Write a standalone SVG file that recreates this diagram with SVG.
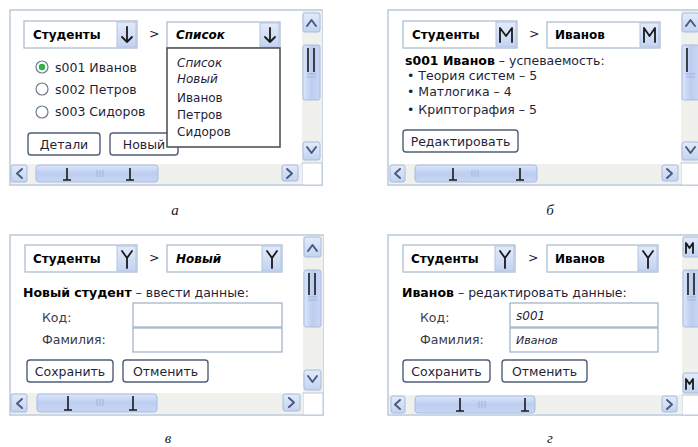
<svg xmlns="http://www.w3.org/2000/svg" width="698" height="447" viewBox="0 0 698 447">
  <defs>
    <linearGradient id="thumbH" x1="0" y1="0" x2="0" y2="1">
      <stop offset="0" stop-color="#dbe6fa"/>
      <stop offset="0.5" stop-color="#bccdf0"/>
      <stop offset="1" stop-color="#c9d7f4"/>
    </linearGradient>
    <linearGradient id="thumbV" x1="0" y1="0" x2="1" y2="0">
      <stop offset="0" stop-color="#dbe6fa"/>
      <stop offset="0.5" stop-color="#bccdf0"/>
      <stop offset="1" stop-color="#c9d7f4"/>
    </linearGradient>
    <linearGradient id="btnGrad" x1="0" y1="0" x2="0" y2="1">
      <stop offset="0" stop-color="#e3ebfa"/>
      <stop offset="1" stop-color="#c3d3f0"/>
    </linearGradient>
  </defs>
  <style>
    .frame{fill:#fff;stroke:#b9c9da;stroke-width:1.5}
    .combo{fill:#fff;stroke:#a9b9cc;stroke-width:1.2}
    .cbtn{fill:url(#btnGrad);stroke:#b3c4e2;stroke-width:1}
    .glyph{fill:none;stroke:#1a1a1a;stroke-width:1.8;stroke-linecap:round;stroke-linejoin:round}
    .chev{fill:none;stroke:#4a5a80;stroke-width:2;stroke-linecap:round;stroke-linejoin:round}
    .btn{fill:#fff;stroke:#4e5e78;stroke-width:1.4}
    .sbtn{fill:url(#btnGrad);stroke:#a9bbdc;stroke-width:1}
    .track{fill:#f0f0ec}
    .hthumb{fill:url(#thumbH);stroke:#a9bbe2;stroke-width:1}
    .vthumb{fill:url(#thumbV);stroke:#a9bbe2;stroke-width:1}
    .tick{fill:none;stroke:#1a1a1a;stroke-width:1.6}
    .grip{fill:none;stroke:#9fb3dc;stroke-width:1}
    .field{fill:#fff;stroke:#9fb0c4;stroke-width:1.2}
    .list{fill:#fff;stroke:#4a4a4a;stroke-width:1.5}
    .radio{fill:#fff;stroke:#6c7c8c;stroke-width:1.2}
    .t{font-family:"DejaVu Sans",sans-serif;font-size:12.5px;fill:#1f1f3a}
    .s{font-size:12px}
    .b{font-weight:bold;fill:#000}
    .i{font-style:italic}
    .lbl{fill:#3a3a48}
    .c{text-anchor:middle}
    .cap{font-family:"Liberation Serif",serif;font-style:italic;font-size:15px;fill:#222;text-anchor:middle}
  </style>

  <!-- а: list of students with open view selector -->
  <g id="panel-a">
    <rect class="frame" x="10" y="10" width="312" height="175"/>
    <g id="a-combo-section">
      <rect class="combo" x="24" y="21" width="113" height="27"/>
      <rect class="cbtn" x="117" y="22" width="19" height="25"/>
      <path class="glyph" d="M127,27 v15 M122,37 l5,5 l5,-5"/>
      <text class="t s b" x="33" y="39">Студенты</text>
    </g>
    <text class="t" x="149" y="38">&gt;</text>
    <g id="a-radios">
      <circle class="radio" cx="42" cy="67" r="6"/>
      <circle cx="42" cy="67" r="3.2" fill="#2fb24a"/>
      <text class="t" x="55" y="71.5">s001 Иванов</text>
      <circle class="radio" cx="42" cy="89" r="6"/>
      <text class="t" x="55" y="93.5">s002 Петров</text>
      <circle class="radio" cx="42" cy="112" r="6"/>
      <text class="t" x="55" y="116">s003 Сидоров</text>
    </g>
    <g id="a-btn-details">
      <rect class="btn" x="28" y="133" width="72" height="22" rx="3"/>
      <text class="t c" x="64" y="148.5">Детали</text>
    </g>
    <g id="a-btn-new">
      <rect class="btn" x="110" y="133" width="68" height="22" rx="3"/>
      <text class="t c" x="144" y="148.5">Новый</text>
    </g>
    <g id="a-combo-view">
      <rect class="combo" x="167" y="22" width="113" height="26"/>
      <rect class="cbtn" x="260" y="23" width="19" height="24"/>
      <path class="glyph" d="M270,28 v14 M265,37 l5,5 l5,-5"/>
      <text class="t s b i" x="176" y="39">Список</text>
      <rect class="list" x="167" y="48" width="113" height="99"/>
      <text class="t s i" x="177" y="67">Список</text>
      <text class="t s i" x="177" y="83">Новый</text>
      <text class="t s" x="177" y="102">Иванов</text>
      <text class="t s" x="177" y="119">Петров</text>
      <text class="t s" x="177" y="136">Сидоров</text>
    </g>
    <g id="a-vscroll">
      <rect class="track" x="302" y="11" width="20" height="152"/>
      <rect class="sbtn" x="303" y="13" width="17" height="19" rx="2"/>
      <path class="chev" d="M307,26 l4.5,-6 l4.5,6"/>
      <rect class="vthumb" x="303" y="45" width="17" height="55" rx="2"/>
      <path class="tick" d="M308,48 v24 M314,48 v24"/>
      <path class="grip" d="M307,74 h9 M307,77 h9"/>
      <rect class="sbtn" x="303" y="142" width="17" height="18" rx="2"/>
      <path class="chev" d="M307,147 l4.5,6 l4.5,-6"/>
      <rect x="302" y="163" width="20" height="22" fill="#fff" stroke="#b9c9da"/>
    </g>
    <g id="a-hscroll">
      <rect class="track" x="11" y="164" width="291" height="20"/>
      <rect class="sbtn" x="11" y="165" width="16" height="17" rx="2"/>
      <path class="chev" d="M22,169 l-5,4.5 l5,4.5"/>
      <rect class="hthumb" x="36" y="165" width="122" height="17" rx="3"/>
      <path class="tick" d="M67,168 v12 M63,180 h8 M130,168 v12 M126,180 h8"/>
      <path class="grip" d="M97,170 v7 M100,170 v7 M103,170 v7"/>
      <rect class="sbtn" x="282" y="165" width="16" height="16" rx="2"/>
      <path class="chev" d="M287,169 l5,4.5 l-5,4.5"/>
    </g>
  </g>

  <!-- б: student details -->
  <g id="panel-b">
    <rect class="frame" x="388" y="10" width="312" height="175"/>
    <g id="b-combo-section">
      <rect class="combo" x="403" y="21" width="114" height="27"/>
      <rect class="cbtn" x="496" y="22" width="20" height="25"/>
      <path class="glyph" d="M500,42 v-14 l6,8 l6,-8 v14"/>
      <text class="t s b" x="412" y="39">Студенты</text>
    </g>
    <text class="t" x="529" y="38">&gt;</text>
    <g id="b-combo-view">
      <rect class="combo" x="547" y="22" width="113" height="26"/>
      <rect class="cbtn" x="640" y="23" width="19" height="24"/>
      <path class="glyph" d="M644,42 v-14 l5.5,8 l5.5,-8 v14"/>
      <text class="t s b" x="555" y="39">Иванов</text>
    </g>
    <g id="b-grades">
      <text class="t" x="405" y="65"><tspan class="b">s001 Иванов</tspan> – успеваемость:</text>
      <text class="t" x="407" y="79.5">• Теория систем – 5</text>
      <text class="t" x="407" y="96">• Матлогика – 4</text>
      <text class="t" x="407" y="113.5">• Криптография – 5</text>
    </g>
    <g id="b-btn-edit">
      <rect class="btn" x="403" y="130" width="115" height="22" rx="3"/>
      <text class="t c" x="460.5" y="145.5">Редактировать</text>
    </g>
    <g id="b-vscroll">
      <rect class="track" x="681" y="11" width="17" height="152"/>
      <rect class="sbtn" x="682" y="13" width="17" height="19" rx="2"/>
      <path class="chev" d="M686,26 l4.5,-6 l4.5,6"/>
      <rect class="vthumb" x="682" y="45" width="17" height="55" rx="2"/>
      <path class="tick" d="M687,48 v24"/>
      <path class="grip" d="M686,74 h9 M686,77 h9"/>
      <rect class="sbtn" x="682" y="142" width="17" height="18" rx="2"/>
      <path class="chev" d="M686,147 l4.5,6 l4.5,-6"/>
      <rect x="681" y="163" width="20" height="22" fill="#fff" stroke="#b9c9da"/>
    </g>
    <g id="b-hscroll">
      <rect class="track" x="389" y="164" width="292" height="20"/>
      <rect class="sbtn" x="390" y="165" width="15" height="17" rx="2"/>
      <path class="chev" d="M400,169 l-5,4.5 l5,4.5"/>
      <rect class="hthumb" x="415" y="165" width="122" height="17" rx="3"/>
      <path class="tick" d="M453,168 v12 M449,180 h8 M520,168 v12 M516,180 h8"/>
      <path class="grip" d="M472,170 v7 M475,170 v7 M478,170 v7"/>
      <rect class="sbtn" x="662" y="165" width="16" height="16" rx="2"/>
      <path class="chev" d="M667,169 l5,4.5 l-5,4.5"/>
    </g>
  </g>

  <!-- в: new student form -->
  <g id="panel-c">
    <rect class="frame" x="10" y="235" width="313" height="180"/>
    <g id="c-combo-section">
      <rect class="combo" x="25" y="245" width="112" height="27"/>
      <rect class="cbtn" x="117" y="246" width="19" height="25"/>
      <path class="glyph" d="M127,268 v-10 M122,251 l5,7 l5,-7"/>
      <text class="t s b" x="33" y="263">Студенты</text>
    </g>
    <text class="t" x="149" y="262">&gt;</text>
    <g id="c-combo-view">
      <rect class="combo" x="167" y="245" width="115" height="27"/>
      <rect class="cbtn" x="262" y="246" width="19" height="25"/>
      <path class="glyph" d="M272,268 v-10 M267,251 l5,7 l5,-7"/>
      <text class="t s b i" x="176" y="263">Новый</text>
    </g>
    <g id="c-form">
      <text class="t" x="23" y="296.5"><tspan class="b">Новый студент</tspan> – ввести данные:</text>
      <text class="t lbl" x="42" y="321.5">Код:</text>
      <text class="t lbl" x="42" y="344">Фамилия:</text>
      <rect class="field" x="133" y="303" width="149" height="24"/>
      <rect class="field" x="133" y="328" width="149" height="24"/>
    </g>
    <g id="c-btn-save">
      <rect class="btn" x="27" y="360" width="86" height="22" rx="3"/>
      <text class="t c" x="70" y="375.5">Сохранить</text>
    </g>
    <g id="c-btn-cancel">
      <rect class="btn" x="123" y="360" width="85" height="22" rx="3"/>
      <text class="t c" x="165.5" y="375.5">Отменить</text>
    </g>
    <g id="c-vscroll">
      <rect class="track" x="303" y="236" width="20" height="157"/>
      <rect class="sbtn" x="304" y="237" width="17" height="20" rx="2"/>
      <path class="chev" d="M308,251 l4.5,-6 l4.5,6"/>
      <rect class="vthumb" x="304" y="270" width="17" height="57" rx="2"/>
      <path class="tick" d="M309,273 v22 M315,273 v22"/>
      <path class="grip" d="M308,297 h9 M308,300 h9"/>
      <rect class="sbtn" x="304" y="370" width="17" height="20" rx="2"/>
      <path class="chev" d="M308,376 l4.5,6 l4.5,-6"/>
      <rect x="303" y="393" width="20" height="22" fill="#fff" stroke="#b9c9da"/>
    </g>
    <g id="c-hscroll">
      <rect class="track" x="11" y="393" width="292" height="21"/>
      <rect class="sbtn" x="11" y="394" width="16" height="18" rx="2"/>
      <path class="chev" d="M22,399 l-5,4.5 l5,4.5"/>
      <rect class="hthumb" x="37" y="394" width="120" height="18" rx="3"/>
      <path class="tick" d="M68,396 v14 M64,410 h8 M133,396 v14 M129,410 h8" stroke-width="2.2"/>
      <path class="grip" d="M97,399 v7 M100,399 v7 M103,399 v7"/>
      <rect class="sbtn" x="283" y="394" width="17" height="17" rx="2"/>
      <path class="chev" d="M289,398 l5,4.5 l-5,4.5"/>
    </g>
  </g>

  <!-- г: edit student form -->
  <g id="panel-d">
    <rect class="frame" x="388" y="235" width="312" height="180"/>
    <g id="d-combo-section">
      <rect class="combo" x="403" y="245" width="112" height="27"/>
      <rect class="cbtn" x="495" y="246" width="19" height="25"/>
      <path class="glyph" d="M505,268 v-10 M500,251 l5,7 l5,-7"/>
      <text class="t s b" x="411" y="263">Студенты</text>
    </g>
    <text class="t" x="528" y="262">&gt;</text>
    <g id="d-combo-view">
      <rect class="combo" x="547" y="245" width="111" height="27"/>
      <rect class="cbtn" x="638" y="246" width="19" height="25"/>
      <path class="glyph" d="M648,268 v-10 M643,251 l5,7 l5,-7"/>
      <text class="t s b" x="555" y="263">Иванов</text>
    </g>
    <g id="d-form">
      <text class="t" x="402" y="296.5"><tspan class="b">Иванов</tspan> – редактировать данные:</text>
      <text class="t lbl" x="420" y="321.5">Код:</text>
      <text class="t lbl" x="420" y="344">Фамилия:</text>
      <rect class="field" x="510" y="303" width="148" height="24"/>
      <rect class="field" x="510" y="328" width="148" height="24"/>
      <text class="t s i" x="516" y="320">s001</text>
      <text class="t i" x="516" y="344" style="font-size:11px">Иванов</text>
    </g>
    <g id="d-btn-save">
      <rect class="btn" x="403" y="360" width="87" height="22" rx="3"/>
      <text class="t c" x="446.5" y="375.5">Сохранить</text>
    </g>
    <g id="d-btn-cancel">
      <rect class="btn" x="502" y="360" width="85" height="22" rx="3"/>
      <text class="t c" x="544.5" y="375.5">Отменить</text>
    </g>
    <g id="d-vscroll">
      <rect class="track" x="682" y="236" width="16" height="159"/>
      <rect class="sbtn" x="683" y="237" width="17" height="20" rx="2"/>
      <path class="glyph" d="M686,253 v-10 l3.5,5 l3.5,-5 v10" stroke-width="1.4"/>
      <rect class="vthumb" x="683" y="270" width="17" height="57" rx="2"/>
      <path class="tick" d="M688,273 v22 M694,273 v22"/>
      <path class="grip" d="M687,297 h9 M687,300 h9"/>
      <rect class="sbtn" x="683" y="373" width="17" height="20" rx="2"/>
      <path class="glyph" d="M686,389 v-10 l3.5,5 l3.5,-5 v10" stroke-width="1.4"/>
      <rect x="682" y="395" width="20" height="20" fill="#fff" stroke="#b9c9da"/>
    </g>
    <g id="d-hscroll">
      <rect class="track" x="389" y="395" width="293" height="19"/>
      <rect class="sbtn" x="391" y="396" width="14" height="17" rx="2"/>
      <path class="chev" d="M400,400 l-5,4.5 l5,4.5"/>
      <rect class="hthumb" x="415" y="396" width="120" height="17" rx="3"/>
      <path class="tick" d="M460,398 v13 M456,411 h8 M525,398 v13 M521,411 h8"/>
      <path class="grip" d="M479,401 v7 M482,401 v7 M485,401 v7"/>
      <rect class="sbtn" x="662" y="396" width="15" height="16" rx="2"/>
      <path class="chev" d="M667,400 l5,4.5 l-5,4.5"/>
    </g>
  </g>

  <!-- sub-figure captions -->
  <g id="captions">
    <text class="cap" x="175" y="215">а</text>
    <text class="cap" x="550" y="215">б</text>
    <text class="cap" x="168" y="443">в</text>
    <text class="cap" x="550" y="443">г</text>
  </g>
</svg>
